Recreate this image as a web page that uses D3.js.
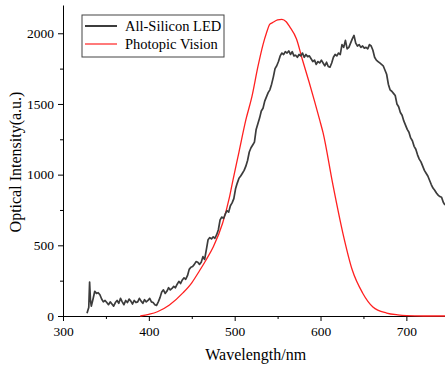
<!DOCTYPE html>
<html>
<head>
<meta charset="utf-8">
<script src="https://cdn.jsdelivr.net/npm/d3@7"></script>
<style>
  body { margin: 0; background: #fff; }
  svg { display: block; font-family: "Liberation Serif", "Times New Roman", serif; }
  .axis path, .axis line { stroke: #000; }
</style>
</head>
<body>
<div id="chart"></div>
<script>
'use strict';

// LED spectrum (nm, a.u.)
const ledWavelength = [328, 329, 330, 331, 332, 333, 335, 337, 339, 341, 343, 345, 347, 349, 351, 353, 355, 357, 359, 361,
    363, 365, 367, 369, 371, 373, 375, 377, 379, 381, 383, 385, 387, 389, 391, 393, 395, 397, 399, 401,
    403, 405, 407, 409, 411, 413, 415, 417, 419, 421, 423, 425, 427, 429, 431, 433, 435, 437, 439, 441,
    443, 445, 447, 449, 451, 453, 455, 457, 459, 461, 463, 465, 467, 469, 471, 473, 475, 477, 479, 481,
    483, 485, 487, 489, 491, 493, 495, 497, 499, 501, 503, 505, 507, 509, 511, 513, 515, 517, 519, 521,
    523, 525, 527, 529, 531, 533, 535, 537, 539, 541, 543, 545, 547, 549, 551, 553, 555, 557, 559, 561,
    563, 565, 567, 569, 571, 573, 575, 577, 579, 581, 583, 585, 587, 589, 591, 593, 595, 597, 599, 601,
    603, 605, 607, 609, 611, 613, 615, 617, 619, 621, 623, 625, 627, 629, 631, 633, 635, 637, 639, 641,
    643, 645, 647, 649, 651, 653, 655, 657, 659, 661, 663, 665, 667, 669, 671, 673, 675, 677, 679, 681,
    683, 685, 687, 689, 691, 693, 695, 697, 699, 701, 703, 705, 707, 709, 711, 713, 715, 717, 719, 721,
    723, 725, 727, 729, 731, 733, 735, 737, 739, 741, 743, 745];
const ledIntensity = [20, 40, 60, 240, 110, 70, 120, 175, 160, 165, 150, 120, 100, 110, 95, 80, 100, 85, 70, 95,
    110, 90, 125, 100, 80, 110, 95, 120, 105, 85, 110, 95, 100, 125, 105, 90, 115, 100, 110, 125,
    100, 95, 80, 75, 100, 130, 170, 185, 160, 175, 200, 185, 195, 210, 200, 225, 245, 230, 255, 270,
    260, 285, 330, 345, 350, 365, 385, 380, 365, 380, 420, 400, 470, 540, 555, 545, 560, 550, 575, 610,
    680, 700, 690, 720, 745, 735, 780, 800, 830, 900, 940, 975, 990, 1010, 1030, 1060, 1100, 1160, 1190, 1210,
    1230, 1320, 1360, 1400, 1450, 1470, 1520, 1550, 1580, 1600, 1640, 1690, 1750, 1770, 1800, 1840, 1860, 1850, 1870, 1860,
    1875, 1850, 1870, 1840, 1845, 1830, 1850, 1840, 1860, 1830, 1850, 1835, 1840, 1820, 1800, 1810, 1780, 1800, 1790, 1810,
    1790, 1770, 1795, 1765, 1760, 1790, 1830, 1850, 1840, 1860, 1850, 1920, 1900, 1950, 1890, 1900, 1930, 1960, 1985, 1930,
    1910, 1920, 1900, 1910, 1895, 1900, 1890, 1920, 1910, 1880, 1830, 1810, 1800, 1790, 1780, 1770, 1740, 1710, 1640, 1600,
    1590, 1575, 1560, 1500, 1480, 1440, 1420, 1380, 1350, 1320, 1300, 1260, 1240, 1200, 1180, 1140, 1110, 1090, 1060, 1030,
    1010, 990, 960, 930, 905, 890, 870, 855, 845, 840, 805, 785];

// photopic vision curve, scaled to the plot
const photopicWavelength = [390, 400, 410, 424, 440, 450, 459, 467, 475, 486, 494, 498, 505, 513, 520, 527, 533, 537, 541, 544,
    550, 555, 560, 564, 572, 579, 587, 593, 599, 603, 614, 626, 637, 649, 661, 677, 690, 700, 720, 745];
const photopicIntensity = [0, 12, 30, 78, 165, 235, 320, 400, 488, 658, 842, 962, 1160, 1387, 1550, 1762, 1920, 2002, 2065, 2075,
    2094, 2099, 2082, 2047, 1960, 1811, 1648, 1520, 1387, 1295, 941, 587, 325, 163, 64, 21, 8, 3, 0, 0];

const seriesNames = ['All-Silicon LED', 'Photopic Vision'];
const xTicks = [300, 400, 500, 600, 700];
const yTicks = [0, 500, 1000, 1500, 2000];

const svgWidth = 445, svgHeight = 370;
const margin = {top: 5, right: 0, bottom: 54, left: 63};
const width = svgWidth - margin.left - margin.right,
      height = svgHeight - margin.top - margin.bottom;

const serif = '"Liberation Serif", "Times New Roman", serif';

const svg = d3.select('#chart').append('svg')
    .attr('width', svgWidth)
    .attr('height', svgHeight);

const chart = svg.append('g')
    .attr('transform', `translate(${margin.left},${margin.top})`);

const x = d3.scaleLinear([300, 745], [0, width]);
const y = d3.scaleLinear([0, 2200], [height, 0]);

chart.append('clipPath').attr('id', 'clip')
    .append('rect').attr('width', width).attr('height', height + 1);

// serif labels on the axes (d3 puts sans-serif on the group)
const styleAxis = g => g.selectAll('text')
    .style('font-family', serif)
    .style('font-size', '13.5px');

// minor ticks first, then the labelled ones
chart.append('g').attr('class', 'axis')
    .attr('transform', `translate(0,${height})`)
    .call(d3.axisBottom(x).tickValues([350, 450, 550, 650]).tickSize(3).tickFormat(''))
    .call(g => g.select('.domain').remove());
chart.append('g').attr('class', 'axis')
    .call(d3.axisLeft(y).tickValues([250, 750, 1250, 1750]).tickSize(3).tickFormat(''))
    .call(g => g.select('.domain').remove());

chart.append('g').attr('class', 'axis')
    .attr('transform', `translate(0,${height})`)
    .call(d3.axisBottom(x).tickValues(xTicks).tickFormat(d3.format('d')).tickSize(5).tickSizeOuter(0).tickPadding(5))
    .call(styleAxis);
chart.append('g').attr('class', 'axis')
    .call(d3.axisLeft(y).tickValues(yTicks).tickFormat(d3.format('d')).tickSize(5).tickSizeOuter(0).tickPadding(4))
    .call(styleAxis);

const ledLine = d3.line()
    .x((d, i) => x(ledWavelength[i]))
    .y(d => y(d));
const photopicLine = d3.line()
    .x((d, i) => x(photopicWavelength[i]))
    .y(d => y(d))
    .curve(d3.curveMonotoneX);

chart.append('path')
    .attr('clip-path', 'url(#clip)')
    .attr('d', photopicLine(photopicIntensity))
    .attr('fill', 'none')
    .attr('stroke', '#ff2020')
    .attr('stroke-width', 1.3);

chart.append('path')
    .attr('clip-path', 'url(#clip)')
    .attr('d', ledLine(ledIntensity))
    .attr('fill', 'none')
    .attr('stroke', '#3c3c3c')
    .attr('stroke-width', 1.7)
    .attr('stroke-linejoin', 'round');

// legend
const legend = svg.append('g').attr('transform', 'translate(82,15)');
legend.append('rect')
    .attr('width', 142).attr('height', 42)
    .attr('fill', '#fff').attr('stroke', '#444').attr('stroke-width', 1);
const legendColors = ['#3c3c3c', '#ff2020'];
const legendWidths = [2, 1.2];
seriesNames.forEach((name, i) => {
    const ly = 11 + i * 18;
    legend.append('line')
        .attr('x1', 3).attr('x2', 35).attr('y1', ly).attr('y2', ly)
        .attr('stroke', legendColors[i]).attr('stroke-width', legendWidths[i]);
    legend.append('text')
        .attr('x', 43).attr('y', ly + 5)
        .attr('font-size', '14.5px')
        .text(name);
});

// axis titles
svg.append('text')
    .attr('text-anchor', 'middle')
    .attr('x', margin.left + x(500) + 21)
    .attr('y', 360)
    .attr('font-size', '16px')
    .text('Wavelength/nm');

svg.append('text')
    .attr('text-anchor', 'middle')
    .attr('transform', 'rotate(-90)')
    .attr('x', -162)
    .attr('y', 21)
    .attr('font-size', '16px')
    .text('Optical Intensity(a.u.)');
</script>
</body>
</html>
